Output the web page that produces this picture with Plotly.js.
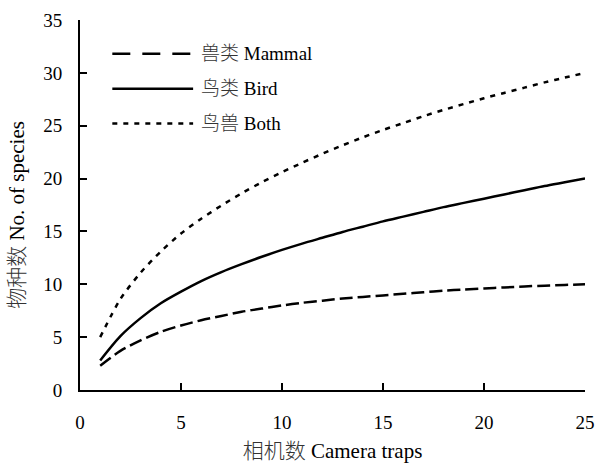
<!DOCTYPE html>
<html>
<head>
<meta charset="utf-8">
<script src="https://cdn.plot.ly/plotly-3.0.1.min.js"></script>
<style>html,body{margin:0;padding:0;background:#fff;}#chart{width:596px;height:464px;}</style>
</head>
<body>
<div id="chart"></div>
<script>
const cameraTraps = [1,2,3,4,5,6,7,8,9,10,11,12,13,14,15,16,17,18,19,20,21,22,23,24,25];
const mammal = [2.3,3.7,4.7,5.5,6.1,6.6,7.0,7.4,7.7,8.0,8.25,8.45,8.65,8.8,8.95,9.1,9.25,9.4,9.5,9.6,9.7,9.8,9.87,9.94,10.0];
const bird = [2.8,5.1,6.8,8.2,9.3,10.3,11.15,11.9,12.6,13.25,13.85,14.4,14.95,15.45,15.95,16.4,16.85,17.3,17.7,18.1,18.5,18.9,19.3,19.65,20.0];
const both = [5.0,8.6,11.1,13.1,14.8,16.2,17.45,18.6,19.65,20.6,21.5,22.35,23.15,23.9,24.6,25.25,25.9,26.5,27.05,27.6,28.1,28.6,29.1,29.55,30.0];
const seriesCn = ['兽类','鸟类','鸟兽'];
const seriesEn = ['Mammal','Bird','Both'];
const xTitleCn = '相机数', xTitleEn = 'Camera traps';
const yTitleCn = '物种数', yTitleEn = 'No. of species';
const xTicks = [0,5,10,15,20,25];
const yTicks = [0,5,10,15,20,25,30,35];

const FONT = 'Liberation Serif, Times New Roman, Noto Sans CJK SC, serif';
const cn = s => '<span style="font-weight:300;color:#333">' + s + '</span>';
const dashes = ['13px,5px','solid','5px,6px'];
const legendDashes = ['18px,12px','solid','5px,6px'];
const ys = [mammal, bird, both];

const traces = ys.map((y,i)=>({
  x: cameraTraps, y: y, type:'scatter', mode:'lines', name: seriesCn[i] + ' ' + seriesEn[i],
  line:{color:'#000', width:2.5, dash:dashes[i], shape:'spline', smoothing:0.8},
  showlegend:false, hoverinfo:'skip'
}));

// manual legend (top-left inside plot)
const shapes = [], annotations = [];
const legY = [31.8, 28.5, 25.2];
seriesEn.forEach((n,i)=>{
  shapes.push({type:'line', xref:'x', yref:'y', x0:1.6, x1:5.6, y0:legY[i], y1:legY[i],
    line:{color:'#000', width:2.5, dash:legendDashes[i]}});
  annotations.push({xref:'x', yref:'y', x:5.9, y:legY[i], text:cn(seriesCn[i]) + ' ' + n, showarrow:false,
    xanchor:'left', yanchor:'middle', font:{family:FONT, size:19, color:'#000'}});
});
// y-axis title (placed as in the reference, slightly below plot centre)
annotations.push({xref:'paper', yref:'paper', x:-0.125, y:0.473, textangle:-90,
  text:cn(yTitleCn) + ' ' + yTitleEn, showarrow:false, xanchor:'center', yanchor:'middle',
  font:{family:FONT, size:21, color:'#000'}});

const layout = {
  width:596, height:464,
  margin:{l:80, r:11, t:20, b:74},
  paper_bgcolor:'#fff', plot_bgcolor:'#fff',
  font:{family:FONT, size:19, color:'#000'},
  xaxis:{range:[0,25], tickvals:xTicks, ticktext:xTicks.map(String),
    showgrid:false, zeroline:false, showline:true, linecolor:'#000', linewidth:2,
    ticks:'inside', ticklen:7, tickwidth:2, tickcolor:'#000', ticklabelstandoff:14,
    tickfont:{family:FONT, size:19},
    title:{text:cn(xTitleCn) + ' ' + xTitleEn, font:{family:FONT, size:21}, standoff:12}},
  yaxis:{range:[0,35], tickvals:yTicks, ticktext:yTicks.map(String),
    showgrid:false, zeroline:false, showline:true, linecolor:'#000', linewidth:2,
    ticks:'inside', ticklen:7, tickwidth:2, tickcolor:'#000', ticklabelstandoff:12,
    tickfont:{family:FONT, size:19}},
  shapes: shapes, annotations: annotations
};
Plotly.newPlot('chart', traces, layout, {displayModeBar:false, staticPlot:true});
</script>
</body>
</html>
